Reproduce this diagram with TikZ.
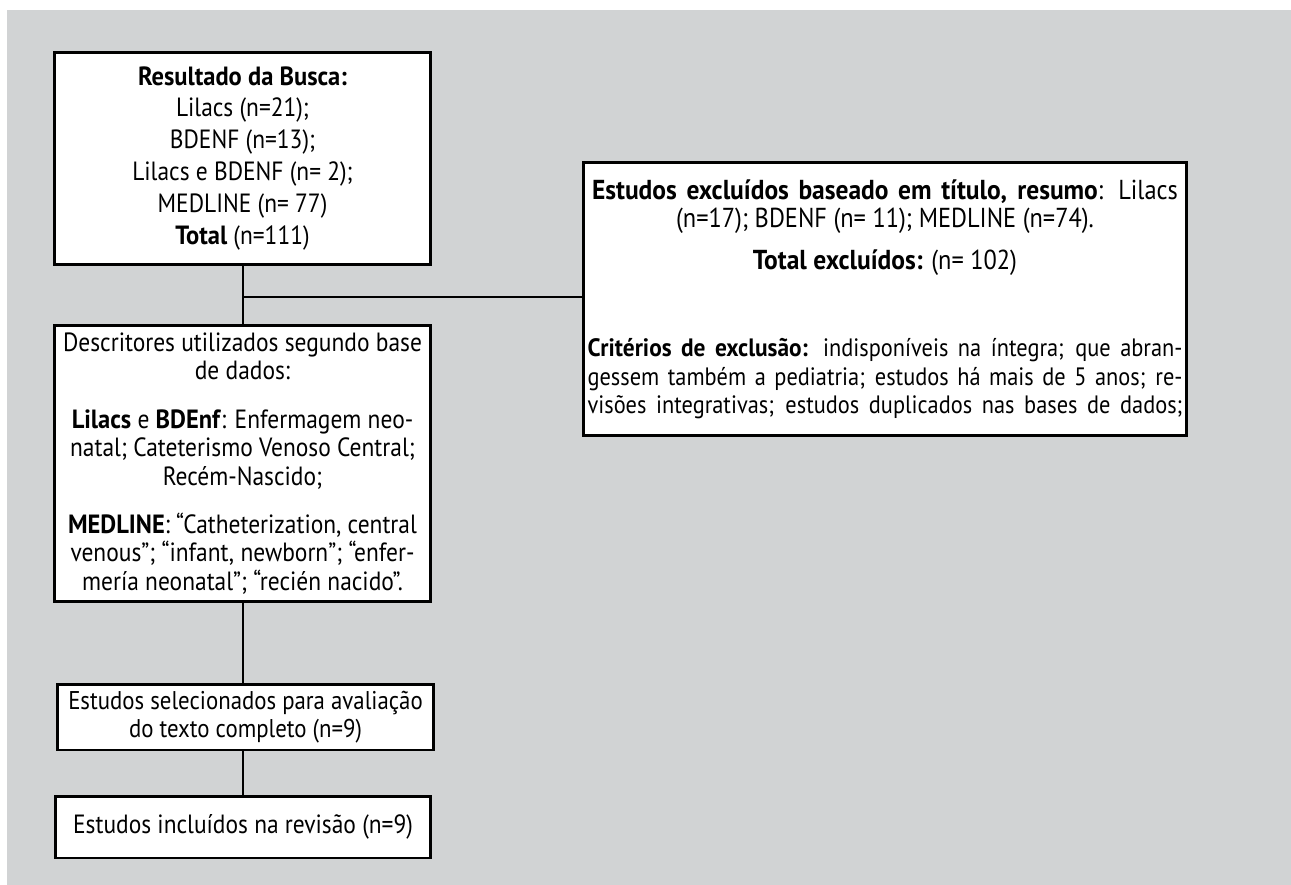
\documentclass[tikz,border=0pt]{standalone}
\usepackage{fontspec}
\setmainfont{PT Sans}[UprightFeatures={FakeStretch=0.89}, BoldFeatures={FakeStretch=0.93}]
\usepackage{tikz}
\definecolor{fundo}{RGB}{209,211,212}
\tikzset{caixa/.style={draw, fill=white, line width=1.7pt, align=center, inner sep=0pt,
    font=\fontsize{15}{16.1}\selectfont},
  liga/.style={line width=1.7pt}}
\newcommand{\linhacheia}[1]{\makebox[11.9cm][s]{#1}}
\newcommand{\grande}{\fontsize{15.6}{16.1}\selectfont}

\begin{document}
\begin{tikzpicture}[x=0.02cm, y=-0.02cm]
  \useasboundingbox (0,0) rectangle (1291,885);
  \fill[fundo] (7,10) rectangle (1291,885);

  \node (busca) at (242.5,158.5) [caixa, minimum width=7.54cm, minimum height=4.26cm,
      font=\fontsize{15}{18.2}\selectfont]
    {\textbf{Resultado da Busca:}\\ Lilacs (n=21);\\ BDENF (n=13);\\
     Lilacs e BDENF (n= 2);\\ MEDLINE (n= 77)\\ \textbf{Total} (n=111)};

  \node (descr) at (242.5,463.5) [caixa, minimum width=7.54cm, minimum height=5.54cm]
    {Descritores utilizados segundo base\\ de dados:\\[11.5pt]
     \textbf{Lilacs} e \textbf{BDEnf}: Enfermagem neo-\\ natal; Cateterismo Venoso Central;\\
     Recém-Nascido;\\[11.5pt]
     \textbf{MEDLINE}: “Catheterization, central\\ venous”; “infant, newborn”; “enfer-\\
     mería neonatal”; “recién nacido”.};

  \node (selec) at (245.5,717) [caixa, minimum width=7.54cm, minimum height=1.32cm,
      font=\fontsize{14.6}{16.1}\selectfont]
    {Estudos selecionados para avaliação\\ do texto completo (n=9)};

  \node (incl) at (243,827) [caixa, minimum width=7.52cm, minimum height=1.24cm]
    {Estudos incluídos na revisão (n=9)};

  \node (excl) at (885,299) [caixa, minimum width=12.08cm, minimum height=5.48cm,
      font=\fontsize{14.3}{16.1}\selectfont]
    {\grande\makebox[11.72cm][s]{\textbf{Estudos excluídos baseado em título, resumo}: Lilacs}\\
     \grande(n=17); BDENF (n= 11); MEDLINE (n=74).\\[8pt]
     \grande\textbf{Total excluídos:} (n= 102)\\[33.5pt]
     \linhacheia{\textbf{Critérios de exclusão:} indisponíveis na íntegra; que abran-}\\
     \linhacheia{gessem também a pediatria; estudos há mais de 5 anos; re-}\\
     \linhacheia{visões integrativas; estudos duplicados nas bases de dados;}};

  \coordinate (junta) at (243,297);
  \draw[liga] (busca.south -| junta) -- (descr.north -| junta);
  \draw[liga] (junta) -- (junta -| excl.west);
  \draw[liga] (descr.south -| junta) -- (selec.north -| junta);
  \draw[liga] (selec.south -| junta) -- (incl.north -| junta);
\end{tikzpicture}
\end{document}
